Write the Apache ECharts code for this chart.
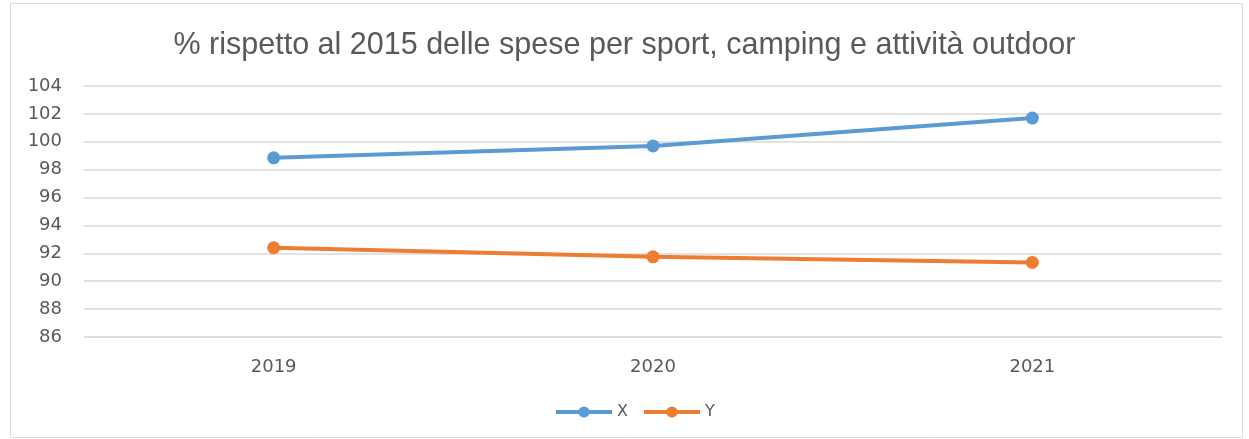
<!DOCTYPE html>
<html>
<head>
<meta charset="utf-8">
<script src="https://cdn.jsdelivr.net/npm/echarts@6/dist/echarts.min.js"></script>
<style>
html,body{margin:0;padding:0;background:#fff;}
#c{width:1249px;height:439px;}
</style>
</head>
<body>
<div id="c"></div>
<script>
var categories = ['2019', '2020', '2021'];
var seriesX = [98.85, 99.7, 101.7];
var seriesY = [92.4, 91.75, 91.35];
var titleText = '% rispetto al 2015 delle spese per sport, camping e attività outdoor';

var chart = echarts.init(document.getElementById('c'));
chart.setOption({
  animation: false,
  backgroundColor: '#fff',
  graphic: [{
    type: 'rect', left: 8, top: 1, z: -1,
    shape: { width: 1232, height: 434 },
    style: { fill: 'none', stroke: '#d9d9d9', lineWidth: 1 }
  }],
  title: {
    text: titleText, left: 'center', top: 25,
    textStyle: { fontFamily: 'Liberation Sans', fontSize: 30.5, fontWeight: 'normal', color: '#595959' }
  },
  legend: {
    data: ['X', 'Y'], bottom: 14, left: 549, itemWidth: 56, itemHeight: 14, itemGap: 14,
    lineStyle: { width: 4 },
    textStyle: { fontFamily: 'DejaVu Sans', fontSize: 16, color: '#595959' }
  },
  grid: { left: 84, right: 27, top: 86, bottom: 102 },
  xAxis: {
    type: 'category', data: categories, boundaryGap: true,
    axisLine: { show: true, lineStyle: { color: '#d9d9d9', width: 1 } },
    axisTick: { show: false },
    axisLabel: { fontFamily: 'DejaVu Sans', fontSize: 18, color: '#595959', margin: 21 }
  },
  yAxis: {
    type: 'value', min: 86, max: 104, interval: 2,
    axisLine: { show: false }, axisTick: { show: false },
    axisLabel: { fontFamily: 'DejaVu Sans', fontSize: 18, color: '#595959', margin: 22 },
    splitLine: { lineStyle: { color: '#d9d9d9', width: 1.5 } }
  },
  series: [
    { name: 'X', type: 'line', data: seriesX, symbol: 'circle', symbolSize: 13,
      lineStyle: { color: '#5B9BD5', width: 4 }, itemStyle: { color: '#5B9BD5' } },
    { name: 'Y', type: 'line', data: seriesY, symbol: 'circle', symbolSize: 13,
      lineStyle: { color: '#ED7D31', width: 4 }, itemStyle: { color: '#ED7D31' } }
  ]
});
</script>
</body>
</html>
